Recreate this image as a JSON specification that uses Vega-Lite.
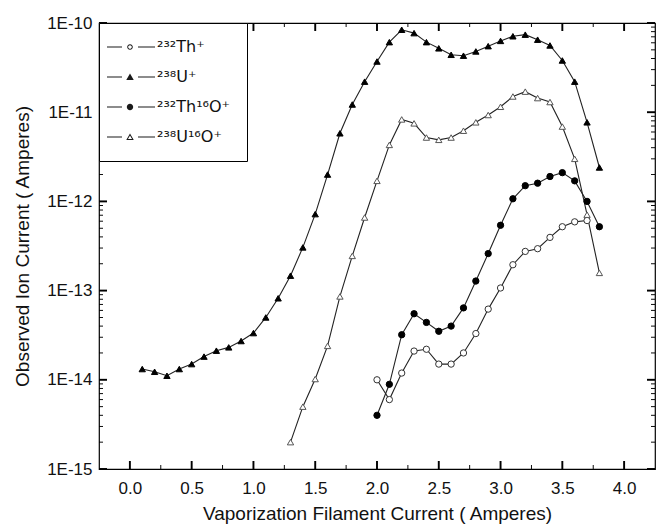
{
  "$schema": "https://vega.github.io/schema/vega-lite/v6.json",
  "autosize": {"type": "none"},
  "padding": {"left": 99, "top": 23, "right": 4, "bottom": 58},
  "width": 556,
  "height": 446,
  "background": "white",
  "config": {
    "font": "Liberation Sans",
    "view": {"stroke": "black", "strokeWidth": 1.2}
  },
  "datasets": {
    "pts": [
      {"s": "232Th+", "x": 2.0, "y": 1.0e-14},
      {"s": "232Th+", "x": 2.1, "y": 6.0e-15},
      {"s": "232Th+", "x": 2.2, "y": 1.19e-14},
      {"s": "232Th+", "x": 2.3, "y": 2.1e-14},
      {"s": "232Th+", "x": 2.4, "y": 2.2e-14},
      {"s": "232Th+", "x": 2.5, "y": 1.5e-14},
      {"s": "232Th+", "x": 2.6, "y": 1.5e-14},
      {"s": "232Th+", "x": 2.7, "y": 2.0e-14},
      {"s": "232Th+", "x": 2.8, "y": 3.3e-14},
      {"s": "232Th+", "x": 2.9, "y": 6.2e-14},
      {"s": "232Th+", "x": 3.0, "y": 1.07e-13},
      {"s": "232Th+", "x": 3.1, "y": 1.95e-13},
      {"s": "232Th+", "x": 3.2, "y": 2.75e-13},
      {"s": "232Th+", "x": 3.3, "y": 2.95e-13},
      {"s": "232Th+", "x": 3.4, "y": 3.95e-13},
      {"s": "232Th+", "x": 3.5, "y": 5.2e-13},
      {"s": "232Th+", "x": 3.6, "y": 5.9e-13},
      {"s": "232Th+", "x": 3.7, "y": 6.1e-13},
      {"s": "238U+", "x": 0.1, "y": 1.32e-14},
      {"s": "238U+", "x": 0.2, "y": 1.23e-14},
      {"s": "238U+", "x": 0.3, "y": 1.11e-14},
      {"s": "238U+", "x": 0.4, "y": 1.32e-14},
      {"s": "238U+", "x": 0.5, "y": 1.5e-14},
      {"s": "238U+", "x": 0.6, "y": 1.82e-14},
      {"s": "238U+", "x": 0.7, "y": 2.12e-14},
      {"s": "238U+", "x": 0.8, "y": 2.31e-14},
      {"s": "238U+", "x": 0.9, "y": 2.72e-14},
      {"s": "238U+", "x": 1.0, "y": 3.34e-14},
      {"s": "238U+", "x": 1.1, "y": 5.0e-14},
      {"s": "238U+", "x": 1.2, "y": 8.2e-14},
      {"s": "238U+", "x": 1.3, "y": 1.47e-13},
      {"s": "238U+", "x": 1.4, "y": 3.05e-13},
      {"s": "238U+", "x": 1.5, "y": 7.2e-13},
      {"s": "238U+", "x": 1.6, "y": 2.0e-12},
      {"s": "238U+", "x": 1.7, "y": 5.8e-12},
      {"s": "238U+", "x": 1.8, "y": 1.22e-11},
      {"s": "238U+", "x": 1.9, "y": 2.2e-11},
      {"s": "238U+", "x": 2.0, "y": 3.7e-11},
      {"s": "238U+", "x": 2.1, "y": 6.1e-11},
      {"s": "238U+", "x": 2.2, "y": 8.4e-11},
      {"s": "238U+", "x": 2.3, "y": 7.7e-11},
      {"s": "238U+", "x": 2.4, "y": 6.1e-11},
      {"s": "238U+", "x": 2.5, "y": 5.2e-11},
      {"s": "238U+", "x": 2.6, "y": 4.4e-11},
      {"s": "238U+", "x": 2.7, "y": 4.3e-11},
      {"s": "238U+", "x": 2.8, "y": 4.8e-11},
      {"s": "238U+", "x": 2.9, "y": 5.5e-11},
      {"s": "238U+", "x": 3.0, "y": 6.3e-11},
      {"s": "238U+", "x": 3.1, "y": 7.1e-11},
      {"s": "238U+", "x": 3.2, "y": 7.4e-11},
      {"s": "238U+", "x": 3.3, "y": 6.5e-11},
      {"s": "238U+", "x": 3.4, "y": 5.6e-11},
      {"s": "238U+", "x": 3.5, "y": 3.8e-11},
      {"s": "238U+", "x": 3.6, "y": 2.2e-11},
      {"s": "238U+", "x": 3.7, "y": 7.7e-12},
      {"s": "238U+", "x": 3.8, "y": 2.4e-12},
      {"s": "232Th16O+", "x": 2.0, "y": 4.0e-15},
      {"s": "232Th16O+", "x": 2.1, "y": 8.9e-15},
      {"s": "232Th16O+", "x": 2.2, "y": 3.2e-14},
      {"s": "232Th16O+", "x": 2.3, "y": 5.5e-14},
      {"s": "232Th16O+", "x": 2.4, "y": 4.4e-14},
      {"s": "232Th16O+", "x": 2.5, "y": 3.5e-14},
      {"s": "232Th16O+", "x": 2.6, "y": 4.0e-14},
      {"s": "232Th16O+", "x": 2.7, "y": 6.4e-14},
      {"s": "232Th16O+", "x": 2.8, "y": 1.28e-13},
      {"s": "232Th16O+", "x": 2.9, "y": 2.6e-13},
      {"s": "232Th16O+", "x": 3.0, "y": 5.4e-13},
      {"s": "232Th16O+", "x": 3.1, "y": 1.07e-12},
      {"s": "232Th16O+", "x": 3.2, "y": 1.5e-12},
      {"s": "232Th16O+", "x": 3.3, "y": 1.6e-12},
      {"s": "232Th16O+", "x": 3.4, "y": 1.9e-12},
      {"s": "232Th16O+", "x": 3.5, "y": 2.1e-12},
      {"s": "232Th16O+", "x": 3.6, "y": 1.7e-12},
      {"s": "232Th16O+", "x": 3.7, "y": 1.0e-12},
      {"s": "232Th16O+", "x": 3.8, "y": 5.2e-13},
      {"s": "238U16O+", "x": 1.3, "y": 2.0e-15},
      {"s": "238U16O+", "x": 1.4, "y": 5.0e-15},
      {"s": "238U16O+", "x": 1.5, "y": 1.02e-14},
      {"s": "238U16O+", "x": 1.6, "y": 2.4e-14},
      {"s": "238U16O+", "x": 1.7, "y": 8.6e-14},
      {"s": "238U16O+", "x": 1.8, "y": 2.45e-13},
      {"s": "238U16O+", "x": 1.9, "y": 6.6e-13},
      {"s": "238U16O+", "x": 2.0, "y": 1.7e-12},
      {"s": "238U16O+", "x": 2.1, "y": 4.3e-12},
      {"s": "238U16O+", "x": 2.2, "y": 8.3e-12},
      {"s": "238U16O+", "x": 2.3, "y": 7.5e-12},
      {"s": "238U16O+", "x": 2.4, "y": 5.2e-12},
      {"s": "238U16O+", "x": 2.5, "y": 4.9e-12},
      {"s": "238U16O+", "x": 2.6, "y": 5.2e-12},
      {"s": "238U16O+", "x": 2.7, "y": 6.2e-12},
      {"s": "238U16O+", "x": 2.8, "y": 7.7e-12},
      {"s": "238U16O+", "x": 2.9, "y": 9.3e-12},
      {"s": "238U16O+", "x": 3.0, "y": 1.15e-11},
      {"s": "238U16O+", "x": 3.1, "y": 1.5e-11},
      {"s": "238U16O+", "x": 3.2, "y": 1.7e-11},
      {"s": "238U16O+", "x": 3.3, "y": 1.44e-11},
      {"s": "238U16O+", "x": 3.4, "y": 1.3e-11},
      {"s": "238U16O+", "x": 3.5, "y": 6.9e-12},
      {"s": "238U16O+", "x": 3.6, "y": 3.0e-12},
      {"s": "238U16O+", "x": 3.7, "y": 7.1e-13},
      {"s": "238U16O+", "x": 3.8, "y": 1.58e-13}
    ],
    "xt": [
      {"v": 0, "m": "major"}, {"v": 0.25, "m": "minor"}, {"v": 0.5, "m": "major"}, {"v": 0.75, "m": "minor"},
      {"v": 1, "m": "major"}, {"v": 1.25, "m": "minor"}, {"v": 1.5, "m": "major"}, {"v": 1.75, "m": "minor"},
      {"v": 2, "m": "major"}, {"v": 2.25, "m": "minor"}, {"v": 2.5, "m": "major"}, {"v": 2.75, "m": "minor"},
      {"v": 3, "m": "major"}, {"v": 3.25, "m": "minor"}, {"v": 3.5, "m": "major"}, {"v": 3.75, "m": "minor"},
      {"v": 4, "m": "major"}
    ],
    "yt": [
      {"v": 1e-15, "m": "major"}, {"v": 2e-15, "m": "minor"}, {"v": 3e-15, "m": "minor"}, {"v": 4e-15, "m": "minor"}, {"v": 5e-15, "m": "minor"}, {"v": 6e-15, "m": "minor"}, {"v": 7e-15, "m": "minor"}, {"v": 8e-15, "m": "minor"}, {"v": 9e-15, "m": "minor"},
      {"v": 1e-14, "m": "major"}, {"v": 2e-14, "m": "minor"}, {"v": 3e-14, "m": "minor"}, {"v": 4e-14, "m": "minor"}, {"v": 5e-14, "m": "minor"}, {"v": 6e-14, "m": "minor"}, {"v": 7e-14, "m": "minor"}, {"v": 8e-14, "m": "minor"}, {"v": 9e-14, "m": "minor"},
      {"v": 1e-13, "m": "major"}, {"v": 2e-13, "m": "minor"}, {"v": 3e-13, "m": "minor"}, {"v": 4e-13, "m": "minor"}, {"v": 5e-13, "m": "minor"}, {"v": 6e-13, "m": "minor"}, {"v": 7e-13, "m": "minor"}, {"v": 8e-13, "m": "minor"}, {"v": 9e-13, "m": "minor"},
      {"v": 1e-12, "m": "major"}, {"v": 2e-12, "m": "minor"}, {"v": 3e-12, "m": "minor"}, {"v": 4e-12, "m": "minor"}, {"v": 5e-12, "m": "minor"}, {"v": 6e-12, "m": "minor"}, {"v": 7e-12, "m": "minor"}, {"v": 8e-12, "m": "minor"}, {"v": 9e-12, "m": "minor"},
      {"v": 1e-11, "m": "major"}, {"v": 2e-11, "m": "minor"}, {"v": 3e-11, "m": "minor"}, {"v": 4e-11, "m": "minor"}, {"v": 5e-11, "m": "minor"}, {"v": 6e-11, "m": "minor"}, {"v": 7e-11, "m": "minor"}, {"v": 8e-11, "m": "minor"}, {"v": 9e-11, "m": "minor"},
      {"v": 1e-10, "m": "major"}
    ]
  },
  "data": {"name": "pts"},
  "layer": [
    {
      "mark": {"type": "line", "strokeWidth": 1.1, "color": "#222222"},
      "encoding": {
        "x": {"field": "x", "type": "quantitative", "scale": {"domain": [-0.25, 4.25], "nice": false, "zero": false},
          "axis": {"orient": "bottom", "title": "Vaporization Filament Current ( Amperes)",
            "values": [0, 0.5, 1, 1.5, 2, 2.5, 3, 3.5, 4], "format": ".1f",
            "domain": false, "grid": false, "ticks": true, "tickSize": 0,
            "labelColor": "#111", "titleColor": "#111", "labelFontSize": 17, "titleFontSize": 19, "titleFontWeight": "normal",
            "labelPadding": 11, "titlePadding": 8}},
        "y": {"field": "y", "type": "quantitative", "scale": {"type": "log", "domain": [1e-15, 1e-10], "nice": false},
          "axis": {"orient": "left", "title": "Observed Ion Current ( Amperes)",
            "values": [1e-15, 1e-14, 1e-13, 1e-12, 1e-11, 1e-10],
            "labelExpr": "'1E' + round(log(datum.value)/LN10)",
            "domain": false, "grid": false, "ticks": true, "tickSize": 0,
            "labelColor": "#111", "titleColor": "#111", "labelFontSize": 17, "titleFontSize": 19, "titleFontWeight": "normal",
            "labelPadding": 7, "titlePadding": 14}},
        "detail": {"field": "s"}
      }
    },
    {
      "mark": {"type": "point", "filled": false, "opacity": 1, "strokeWidth": 1, "size": 40},
      "encoding": {
        "x": {"field": "x", "type": "quantitative", "axis": null},
        "y": {"field": "y", "type": "quantitative", "axis": null},
        "shape": {"field": "s", "type": "nominal", "legend": null,
          "scale": {"domain": ["232Th+", "238U+", "232Th16O+", "238U16O+"], "range": ["circle", "triangle-up", "circle", "triangle-up"]}},
        "fill": {"field": "s", "type": "nominal", "legend": null,
          "scale": {"domain": ["232Th+", "238U+", "232Th16O+", "238U16O+"], "range": ["white", "black", "black", "white"]}},
        "stroke": {"field": "s", "type": "nominal", "legend": null,
          "scale": {"domain": ["232Th+", "238U+", "232Th16O+", "238U16O+"], "range": ["#333333", "black", "black", "#555555"]}}
      }
    },
    {
      "mark": {"type": "point", "filled": true, "opacity": 0, "color": "#1a1a1a"},
      "encoding": {
        "x": {"field": "x", "type": "quantitative", "axis": null},
        "y": {"field": "y", "type": "quantitative", "axis": null},
        "shape": {"field": "s", "type": "nominal",
          "scale": {"domain": ["232Th+", "238U+", "232Th16O+", "238U16O+"],
            "range": [
              "M-3.2,-0.11L-0.2,-0.11L-0.2,0.11L-3.2,0.11ZM3,-0.11L6.4,-0.11L6.4,0.11L3,0.11ZM1.96,0A0.56,0.56,0,1,1,0.84,0A0.56,0.56,0,1,1,1.96,0ZM1.76,0A0.36,0.36,0,1,0,1.04,0A0.36,0.36,0,1,0,1.76,0Z",
              "M-3.2,-0.11L-0.2,-0.11L-0.2,0.11L-3.2,0.11ZM3,-0.11L6.4,-0.11L6.4,0.11L3,0.11ZM1.4,-0.7L2.15,0.6L0.65,0.6Z",
              "M-3.2,-0.11L-0.2,-0.11L-0.2,0.11L-3.2,0.11ZM3,-0.11L6.4,-0.11L6.4,0.11L3,0.11ZM2.04,0A0.64,0.64,0,1,1,0.76,0A0.64,0.64,0,1,1,2.04,0Z",
              "M-3.2,-0.11L-0.2,-0.11L-0.2,0.11L-3.2,0.11ZM3,-0.11L6.4,-0.11L6.4,0.11L3,0.11ZM1.4,-0.7L2.15,0.6L0.65,0.6ZM1.4,-0.3L0.995,0.4L1.805,0.4Z"
            ]},
          "legend": {
            "title": null, "orient": "top-left", "offset": 0, "padding": 16,
            "strokeColor": "black", "fillColor": "white",
            "labelFont": "DejaVu Sans", "labelFontSize": 16, "labelColor": "#111",
            "symbolSize": 100, "symbolOpacity": 1, "symbolStrokeWidth": 0, "symbolFillColor": "#1a1a1a",
            "labelOffset": 26, "rowPadding": 14,
            "labelExpr": "datum.value === '232Th+' ? '²³²Th⁺' : datum.value === '238U+' ? '²³⁸U⁺' : datum.value === '232Th16O+' ? '²³²Th¹⁶O⁺' : '²³⁸U¹⁶O⁺'"
          }}
      }
    },
    {
      "data": {"name": "xt"},
      "mark": {"type": "point", "shape": "M-0.12,0L0.12,0L0.12,-1L-0.12,-1Z", "filled": true, "color": "black", "opacity": 1, "strokeWidth": 0},
      "encoding": {
        "x": {"field": "v", "type": "quantitative", "axis": null},
        "y": {"datum": 1e-15, "type": "quantitative", "axis": null},
        "size": {"field": "m", "type": "nominal", "legend": null, "scale": {"domain": ["major", "minor"], "range": [256, 64]}}
      }
    },
    {
      "data": {"name": "xt"},
      "mark": {"type": "point", "shape": "M-0.12,0L0.12,0L0.12,1L-0.12,1Z", "filled": true, "color": "black", "opacity": 1, "strokeWidth": 0},
      "encoding": {
        "x": {"field": "v", "type": "quantitative", "axis": null},
        "y": {"datum": 1e-10, "type": "quantitative", "axis": null},
        "size": {"field": "m", "type": "nominal", "legend": null, "scale": {"domain": ["major", "minor"], "range": [256, 64]}}
      }
    },
    {
      "data": {"name": "yt"},
      "mark": {"type": "point", "shape": "M0,-0.12L1,-0.12L1,0.12L0,0.12Z", "filled": true, "color": "black", "opacity": 1, "strokeWidth": 0},
      "encoding": {
        "y": {"field": "v", "type": "quantitative", "axis": null},
        "x": {"datum": -0.25, "type": "quantitative", "axis": null},
        "size": {"field": "m", "type": "nominal", "legend": null, "scale": {"domain": ["major", "minor"], "range": [256, 64]}}
      }
    },
    {
      "data": {"name": "yt"},
      "mark": {"type": "point", "shape": "M0,-0.12L-1,-0.12L-1,0.12L0,0.12Z", "filled": true, "color": "black", "opacity": 1, "strokeWidth": 0},
      "encoding": {
        "y": {"field": "v", "type": "quantitative", "axis": null},
        "x": {"datum": 4.25, "type": "quantitative", "axis": null},
        "size": {"field": "m", "type": "nominal", "legend": null, "scale": {"domain": ["major", "minor"], "range": [256, 64]}}
      }
    }
  ],
  "resolve": {"axis": {"x": "independent", "y": "independent"}, "scale": {"shape": "independent"}, "legend": {"shape": "independent"}}
}
